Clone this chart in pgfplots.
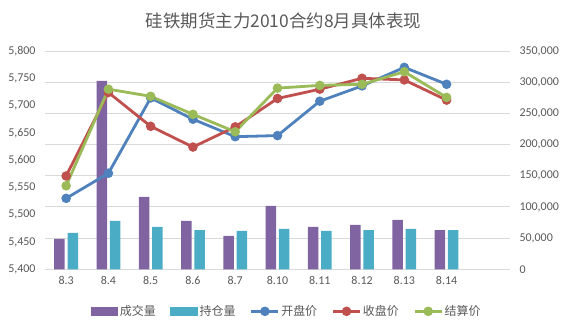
\documentclass[border=0pt]{standalone}
\usepackage{pgfplots}
\pgfplotsset{compat=1.18}
\usepackage{fontspec}
\setmainfont{Carlito}
\newfontfamily\cjk{Noto Sans CJK SC}
\definecolor{cVol}{HTML}{8064A2}
\definecolor{cOI}{HTML}{4BACC6}
\definecolor{cOpen}{HTML}{4F81BD}
\definecolor{cClose}{HTML}{C0504D}
\definecolor{cSettle}{HTML}{9BBB59}
\definecolor{cGrid}{HTML}{D9D9D9}
\definecolor{cText}{HTML}{595959}
\begin{document}
\begin{tikzpicture}
\path[use as bounding box] (0,0) rectangle (567bp,325bp);
\node[text=cText,font={\cjk\fontsize{17.5}{20}\selectfont}] at (283.5bp,304bp) {硅铁期货主力2010合约8月具体表现};
% bars, right axis
\begin{axis}[
  at={(45bp,55.7bp)}, anchor=south west,
  scale only axis, width=465bp, height=218.3bp,
  xmin=-0.5, xmax=10.5, ymin=0, ymax=350000,
  axis y line*=right, axis x line*=bottom,
  axis line style={draw=none},
  xtick={0,...,10},
  xticklabels={8.3,8.4,8.5,8.6,8.7,8.10,8.11,8.12,8.13,8.14},
  xticklabel style={text=cText,font={\fontsize{12}{14}\selectfont}, yshift=-4bp},
  scaled y ticks=false,
  ytick={0,50000,...,350000},
  yticklabels={{0},{50,000},{100,000},{150,000},{200,000},{250,000},{300,000},{350,000}},
  yticklabel style={text=cText,font={\fontsize{12}{14}\selectfont}, xshift=6bp},
  major tick length=0pt,
  ymajorgrids, grid style={cGrid, line width=0.9bp},
  ybar=2.8bp, bar width=10.5bp,
]
\addplot[fill=cVol, draw=none] coordinates {(0,48600) (1,301900) (2,116000) (3,77500) (4,53400) (5,101500) (6,67900) (7,71100) (8,79100) (9,63000)};
\addplot[fill=cOI, draw=none] coordinates {(0,58200) (1,77500) (2,67900) (3,63000) (4,61500) (5,64700) (6,61500) (7,63000) (8,64700) (9,63000)};
\end{axis}
% lines, left axis
\begin{axis}[
  at={(45bp,55.7bp)}, anchor=south west,
  scale only axis, width=465bp, height=218.3bp,
  xmin=-0.5, xmax=10.5, ymin=5400, ymax=5800,
  axis y line*=left, axis x line*=bottom,
  axis line style={draw=none},
  xtick=\empty,
  scaled y ticks=false,
  ytick={5400,5450,...,5800},
  yticklabels={{5,400},{5,450},{5,500},{5,550},{5,600},{5,650},{5,700},{5,750},{5,800}},
  yticklabel style={text=cText,font={\fontsize{12}{14}\selectfont}, xshift=-6bp},
  major tick length=0pt,
  every axis plot/.append style={line width=2.8bp, mark=*, mark size=3.3bp, mark options={solid}},
  legend columns=5,
  legend style={at={(0.519,-0.1925)}, anchor=center, draw=none, fill=none,
    font={\cjk\fontsize{12}{14}\selectfont}, text=cText,
    /tikz/every even column/.append style={column sep=13bp},
    nodes={inner sep=1.5bp}},
  legend image code/.code={\draw[mark repeat=2,mark phase=2,#1] plot coordinates {(0bp,0bp) (13.5bp,0bp) (27bp,0bp)};},
]
\addlegendimage{legend image code/.code={\fill[cVol] (0bp,-3.4bp) rectangle (25bp,3.4bp);}}
\addlegendentry{成交量}
\addlegendimage{legend image code/.code={\fill[cOI] (0bp,-3.4bp) rectangle (25bp,3.4bp);}}
\addlegendentry{持仓量}
\addplot[cOpen] coordinates {(0,5530) (1,5576) (2,5714) (3,5675) (4,5643) (5,5645) (6,5708) (7,5736) (8,5770) (9,5739)};
\addlegendentry{开盘价}
\addplot[cClose] coordinates {(0,5571) (1,5724) (2,5662) (3,5624) (4,5661) (5,5713) (6,5730) (7,5750) (8,5747) (9,5710)};
\addlegendentry{收盘价}
\addplot[cSettle] coordinates {(0,5553) (1,5730) (2,5717) (3,5684) (4,5652) (5,5732) (6,5737) (7,5739) (8,5762) (9,5715)};
\addlegendentry{结算价}
\end{axis}
\end{tikzpicture}
\end{document}
